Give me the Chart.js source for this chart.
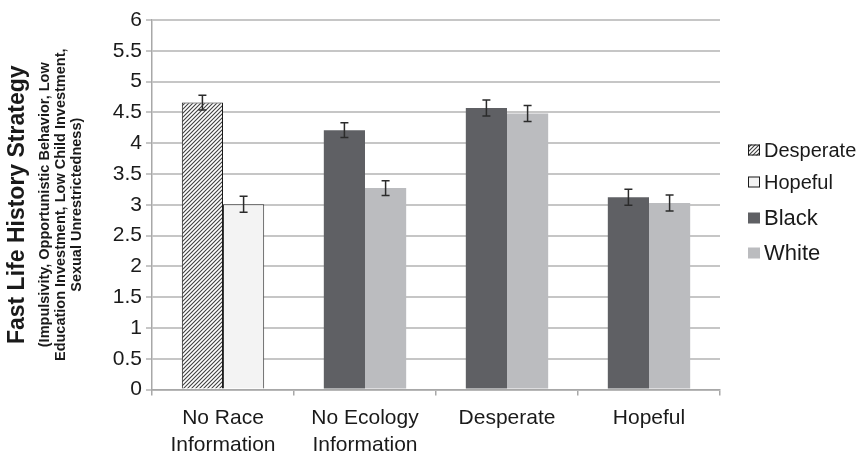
<!DOCTYPE html>
<html>
<head>
<meta charset="utf-8">
<script src="https://cdn.jsdelivr.net/npm/chart.js@4.4.1/dist/chart.umd.min.js"></script>
<style>
  html, body { margin: 0; padding: 0; background: #ffffff; }
  #wrap { width: 863px; height: 454px; }
</style>
</head>
<body>
<div id="wrap"><canvas id="chart" width="863" height="454"></canvas></div>
<script>
// Conditions along the x axis
const categories = [['No Race', 'Information'], ['No Ecology', 'Information'], 'Desperate', 'Hopeful'];
// Left bar of each pair (Desperate in the first group, Black elsewhere)
const leftValues = [4.66, 4.21, 4.57, 3.12];
const leftErrors = [0.12, 0.12, 0.13, 0.13];
// Right bar of each pair (Hopeful in the first group, White elsewhere)
const rightValues = [3.01, 3.27, 4.48, 3.03];
const rightErrors = [0.13, 0.12, 0.13, 0.13];
// Legend entries
const legendLabels = ['Desperate', 'Hopeful', 'Black', 'White'];
// Axis title
const yTitle = 'Fast Life History Strategy';
const ySubtitle = ['(Impulsivity, Opportunistic Behavior, Low', 'Education Investment, Low Child Investment,', 'Sexual Unrestrictedness)'];

const FONT = "'Liberation Sans', Arial, Helvetica, sans-serif";
const DARK = '#5f6064';
const LIGHT = '#bbbcbf';
const PALE = '#f3f3f3';
const INK = '#1a1a1a';

function hatchPattern() {
  const s = 4;
  const c = document.createElement('canvas');
  c.width = s; c.height = s;
  const g = c.getContext('2d');
  g.fillStyle = '#ffffff';
  g.fillRect(0, 0, s, s);
  g.strokeStyle = '#404040';
  g.lineWidth = 1.1;
  g.beginPath();
  g.moveTo(-1, s + 1); g.lineTo(s + 1, -1);
  g.moveTo(-1, 1); g.lineTo(1, -1);
  g.moveTo(s - 1, s + 1); g.lineTo(s + 1, s - 1);
  g.stroke();
  return document.getElementById('chart').getContext('2d').createPattern(c, 'repeat');
}
const hatch = hatchPattern();

// Error bars drawn from each dataset's values and errors
const errorBars = {
  id: 'errorBars',
  afterDatasetsDraw(chart) {
    const ctx = chart.ctx;
    const y = chart.scales.y;
    const errs = [leftErrors, rightErrors];
    ctx.save();
    ctx.strokeStyle = '#2b2b2b';
    ctx.lineWidth = 1.5;
    chart.data.datasets.forEach((ds, di) => {
      chart.getDatasetMeta(di).data.forEach((bar, i) => {
        const v = ds.data[i];
        const e = errs[di][i];
        const top = y.getPixelForValue(v + e);
        const bot = y.getPixelForValue(v - e);
        const x = bar.x;
        ctx.beginPath();
        ctx.moveTo(x, top); ctx.lineTo(x, bot);
        ctx.moveTo(x - 4, top); ctx.lineTo(x + 4, top);
        ctx.moveTo(x - 4, bot); ctx.lineTo(x + 4, bot);
        ctx.stroke();
      });
    });
    ctx.restore();
  }
};

// Y axis title (bold main line plus a smaller three-line description)
const axisTitle = {
  id: 'axisTitle',
  afterDraw(chart) {
    const ctx = chart.ctx;
    const area = chart.chartArea;
    const cy = (area.top + area.bottom) / 2;
    ctx.save();
    ctx.fillStyle = INK;
    ctx.textAlign = 'center';
    ctx.textBaseline = 'middle';
    ctx.translate(0, cy);
    ctx.rotate(-Math.PI / 2);
    ctx.font = 'bold 23px ' + FONT;
    ctx.fillText(yTitle, 0, 18);
    ctx.font = 'bold 14.5px ' + FONT;
    ySubtitle.forEach((line, i) => ctx.fillText(line, 0, 45 + i * 16));
    ctx.restore();
  }
};

// Legend on the right
const sideLegend = {
  id: 'sideLegend',
  afterDraw(chart) {
    const ctx = chart.ctx;
    const fills = [hatch, PALE, DARK, LIGHT];
    const borders = [INK, INK, null, null];
    const sizes = [20, 20, 22, 22];
    const ys = [150, 182, 218, 253];
    const bx = 748;
    ctx.save();
    ctx.textBaseline = 'middle';
    ctx.textAlign = 'left';
    legendLabels.forEach((lab, i) => {
      const y = ys[i];
      ctx.fillStyle = fills[i];
      ctx.fillRect(bx, y - 5.5, 12, 11);
      if (borders[i]) {
        ctx.strokeStyle = borders[i];
        ctx.lineWidth = 1;
        ctx.strokeRect(bx + 0.5, y - 5, 11, 10);
      }
      ctx.fillStyle = INK;
      ctx.font = sizes[i] + 'px ' + FONT;
      ctx.fillText(lab, bx + 16, y + 1);
    });
    ctx.restore();
  }
};

new Chart(document.getElementById('chart'), {
  type: 'bar',
  data: {
    labels: categories,
    datasets: [
      {
        label: 'left',
        data: leftValues,
        backgroundColor: [hatch, DARK, DARK, DARK],
        borderColor: [INK, DARK, DARK, DARK],
        borderWidth: [1, 0, 0, 0],
        categoryPercentage: 0.58,
        barPercentage: 1.0
      },
      {
        label: 'right',
        data: rightValues,
        backgroundColor: [PALE, LIGHT, LIGHT, LIGHT],
        borderColor: ['#3a3a3a', LIGHT, LIGHT, LIGHT],
        borderWidth: [1, 0, 0, 0],
        categoryPercentage: 0.58,
        barPercentage: 1.0
      }
    ]
  },
  options: {
    responsive: false,
    animation: false,
    devicePixelRatio: 1,
    layout: { padding: { left: 0, right: 143, top: 20, bottom: 0 } },
    plugins: {
      legend: { display: false },
      tooltip: { enabled: false }
    },
    scales: {
      x: {
        grid: {
          display: true,
          drawOnChartArea: false,
          drawTicks: true,
          tickLength: 6,
          color: '#a8a8a8',
          lineWidth: 1.5,
          offset: true
        },
        border: { color: '#a8a8a8', width: 1.5 },
        ticks: {
          color: INK,
          font: { family: FONT, size: 21, lineHeight: 1.3 },
          padding: 9,
          maxRotation: 0,
          autoSkip: false
        },
        afterFit(scale) { scale.height = 64.5; }
      },
      y: {
        min: 0,
        max: 6,
        ticks: {
          stepSize: 0.5,
          color: INK,
          font: { family: FONT, size: 21 },
          padding: 4,
          callback: (v) => String(Number(v))
        },
        grid: {
          color: '#c6c6c6',
          lineWidth: 2,
          tickLength: 6,
          drawTicks: true
        },
        border: { color: '#a8a8a8', width: 1.5 },
        afterFit(scale) { scale.width = 152; }
      }
    }
  },
  plugins: [errorBars, axisTitle, sideLegend]
});
</script>
</body>
</html>
